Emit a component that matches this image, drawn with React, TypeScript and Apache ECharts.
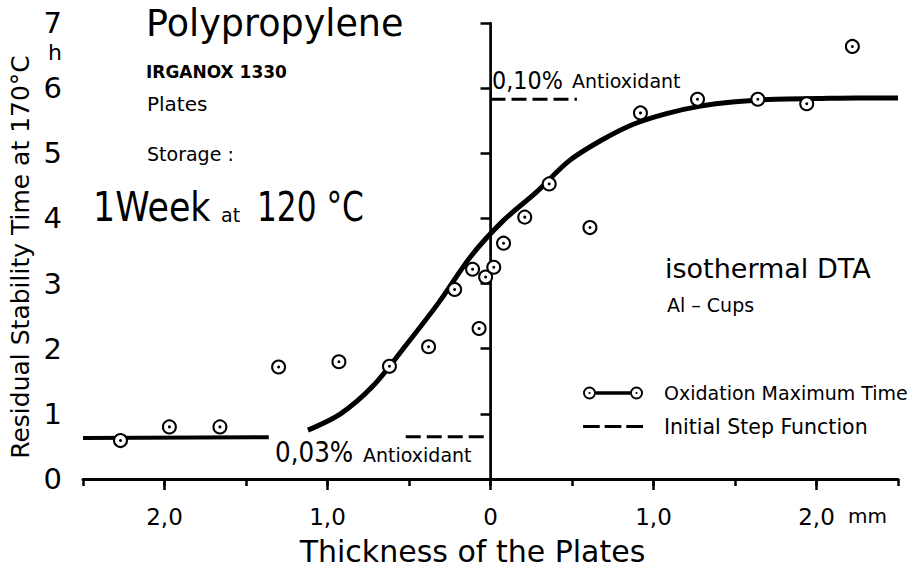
import React, { useEffect, useRef } from 'react';
import * as echarts from 'echarts';

const FONT = '"DejaVu Sans", "Liberation Sans", sans-serif';

// Thickness of the plates (mm): negative = left half (0,03 % side), positive = right half (0,10 % side)
const measuredPoints: [number, number][] = [
  [-2.27, 0.59], [-1.97, 0.80], [-1.66, 0.80], [-1.30, 1.72], [-0.93, 1.80],
  [-0.62, 1.73], [-0.38, 2.03], [-0.22, 2.91], [-0.11, 3.22], [-0.07, 2.31],
  [-0.03, 3.10], [0.02, 3.25], [0.08, 3.62], [0.21, 4.02], [0.36, 4.53],
  [0.61, 3.86], [0.92, 5.62], [1.27, 5.83], [1.64, 5.83], [1.94, 5.76], [2.22, 6.64],
];

const lowPlateau: [number, number][] = [[-2.5, 0.63], [-1.36, 0.64]];

const fittedCurve: [number, number][] = [
  [-1.12, 0.75], [-0.92, 1.0], [-0.72, 1.43], [-0.52, 2.05], [-0.32, 2.7],
  [-0.12, 3.42], [0.08, 3.97], [0.28, 4.4], [0.48, 4.88], [0.68, 5.2],
  [0.88, 5.45], [1.08, 5.61], [1.28, 5.72], [1.5, 5.79], [1.75, 5.83],
  [2.0, 5.84], [2.25, 5.85], [2.5, 5.85],
];

const stepLow: [number, number][] = [[-0.52, 0.65], [0, 0.65]];
const stepHigh: [number, number][] = [[0, 5.83], [0.53, 5.83]];

const xMajorTicks = [-2, -1, 0, 1, 2];

const RING_LINK_ICON =
  'path://M0,6.5 A6.5,6.5 0 1,1 13,6.5 A6.5,6.5 0 1,1 0,6.5 Z ' +
  'M1.9,6.5 A4.6,4.6 0 1,0 11.1,6.5 A4.6,4.6 0 1,0 1.9,6.5 Z ' +
  'M5.4,6.5 A1.1,1.1 0 1,1 7.6,6.5 A1.1,1.1 0 1,1 5.4,6.5 Z ' +
  'M13,4.7 L47,4.7 L47,8.3 L13,8.3 Z ' +
  'M47,6.5 A6.5,6.5 0 1,1 60,6.5 A6.5,6.5 0 1,1 47,6.5 Z ' +
  'M48.9,6.5 A4.6,4.6 0 1,0 58.1,6.5 A4.6,4.6 0 1,0 48.9,6.5 Z ' +
  'M52.4,6.5 A1.1,1.1 0 1,1 54.6,6.5 A1.1,1.1 0 1,1 52.4,6.5 Z';

const DASH_ICON =
  'path://M0,0 L17,0 L17,3 L0,3 Z M22,0 L39,0 L39,3 L22,3 Z M44,0 L61,0 L61,3 L44,3 Z';

function txt(text: string, x: number, y: number, size: number, extra: any = {}) {
  return {
    type: 'text',
    x,
    y,
    scaleX: extra.scaleX ?? 1,
    z: 10,
    style: {
      text,
      fill: '#000',
      fontSize: size,
      fontFamily: FONT,
      fontWeight: extra.weight ?? 'normal',
      align: 'left',
      verticalAlign: 'middle',
    },
  };
}

export default function App() {
  const ref = useRef<HTMLDivElement>(null);

  useEffect(() => {
    if (!ref.current) return;
    const chart = echarts.init(ref.current, null, { renderer: 'svg' });

    const option: any = {
      animation: false,
      backgroundColor: '#fff',
      textStyle: { fontFamily: FONT, color: '#000' },
      grid: { left: 83, right: 20, top: 23, bottom: 92, containLabel: false, outerBoundsMode: 'none' },
      legend: {
        orient: 'vertical',
        left: 578,
        top: 378,
        itemWidth: 60,
        itemHeight: 13,
        itemGap: 13,
        selectedMode: false,
        itemStyle: { color: '#000', borderWidth: 0 },
        textStyle: { color: '#000', fontFamily: FONT, fontSize: 19, lineHeight: 20, padding: [0, 0, 0, 16] },
        data: [
          { name: 'Oxidation Maximum Time', icon: RING_LINK_ICON, textStyle: { fontSize: 19 } },
          { name: 'Initial Step Function', icon: DASH_ICON, textStyle: { fontSize: 20.5 } },
        ],
      },
      xAxis: [
        {
          type: 'value',
          min: -2.5,
          max: 2.5,
          interval: 0.5,
          name: 'Thickness of the Plates',
          nameLocation: 'middle',
          nameGap: 57,
          nameTextStyle: { fontSize: 30, color: '#000', fontFamily: FONT, padding: [0, 36, 0, 0] },
          axisLine: { onZero: false, lineStyle: { color: '#000', width: 3 } },
          axisTick: { show: true, length: 7, lineStyle: { color: '#000', width: 2.5 } },
          axisLabel: {
            color: '#000',
            fontSize: 23,
            fontFamily: FONT,
            margin: 26,
            formatter: (v: number) => {
              if (Math.abs(v) % 1 !== 0) return '';
              if (v === 0) return '0';
              return Math.abs(v).toFixed(1).replace('.', ',');
            },
          },
          splitLine: { show: false },
        },
        {
          type: 'value',
          min: -2.5,
          max: 2.5,
          interval: 0.5,
          position: 'bottom',
          axisLine: { show: false, onZero: false },
          axisTick: { show: true, length: 11, customValues: xMajorTicks, lineStyle: { color: '#000', width: 2.5 } },
          axisLabel: { show: false },
          splitLine: { show: false },
        },
      ],
      yAxis: {
        type: 'value',
        min: 0,
        max: 7,
        interval: 1,
        name: 'Residual Stability Time at 170°C',
        nameLocation: 'middle',
        nameGap: 46,
        nameRotate: 90,
        nameTextStyle: { fontSize: 25, color: '#000', fontFamily: FONT, padding: [0, 12, 0, 0] },
        axisLine: { show: true, lineStyle: { color: '#000', width: 2.5 } },
        axisTick: { show: true, length: 10, lineStyle: { color: '#000', width: 2.5 } },
        axisLabel: { color: '#000', fontSize: 29, fontFamily: FONT, margin: 21, padding: [0, 0, 10, 0] },
        splitLine: { show: false },
      },
      graphic: [
        txt('Polypropylene', 146, 23, 36.5),
        txt('IRGANOX 1330', 146, 72, 17, { weight: 'bold' }),
        txt('Plates', 147, 104, 20),
        txt('Storage :', 147, 154, 19),
        txt('1Week', 93, 207, 40, { scaleX: 0.87 }),
        txt('at', 221, 215, 19),
        txt('120 °C', 257, 207, 40, { scaleX: 0.78 }),
        txt('isothermal DTA', 665, 268, 27),
        txt('Al – Cups', 667, 305, 19),
        txt('0,03%', 275, 452, 28, { scaleX: 0.88 }),
        txt('Antioxidant', 363, 455, 19),
        txt('0,10%', 492, 80, 24, { scaleX: 0.93 }),
        txt('Antioxidant', 572, 81, 19),
        txt('h', 48, 52, 22),
        txt('mm', 848, 516, 20),
      ],
      series: [
        {
          name: 'Oxidation Maximum Time',
          type: 'line',
          data: lowPlateau,
          symbol: 'none',
          lineStyle: { color: '#000', width: 4 },
          z: 2,
        },
        {
          name: 'Oxidation Maximum Time',
          type: 'line',
          data: fittedCurve,
          symbol: 'none',
          smooth: 0.3,
          lineStyle: { color: '#000', width: 5 },
          z: 2,
        },
        {
          name: 'Oxidation Maximum Time',
          type: 'scatter',
          data: measuredPoints,
          symbol: 'circle',
          symbolSize: 13,
          itemStyle: { color: '#fff', borderColor: '#000', borderWidth: 2, opacity: 1 },
          z: 5,
        },
        {
          name: 'Oxidation Maximum Time',
          type: 'scatter',
          data: measuredPoints,
          symbol: 'circle',
          symbolSize: 3,
          itemStyle: { color: '#000', opacity: 1 },
          z: 6,
        },
        {
          name: 'Initial Step Function',
          type: 'line',
          data: stepLow,
          symbol: 'none',
          lineStyle: { color: '#000', width: 3, type: [15, 6] },
          z: 2,
        },
        {
          name: 'Initial Step Function',
          type: 'line',
          data: stepHigh,
          symbol: 'none',
          lineStyle: { color: '#000', width: 3, type: [15, 6] },
          z: 2,
          markLine: {
            silent: true,
            symbol: 'none',
            label: { show: false },
            lineStyle: { color: '#000', width: 1.5, type: 'solid' },
            data: [{ xAxis: 0 }],
          },
        },
      ],
    };

    chart.setOption(option);
    return () => chart.dispose();
  }, []);

  return (
    <div
      ref={ref}
      style={{ position: 'fixed', left: 0, top: 0, width: 918, height: 571, background: '#fff' }}
    />
  );
}
